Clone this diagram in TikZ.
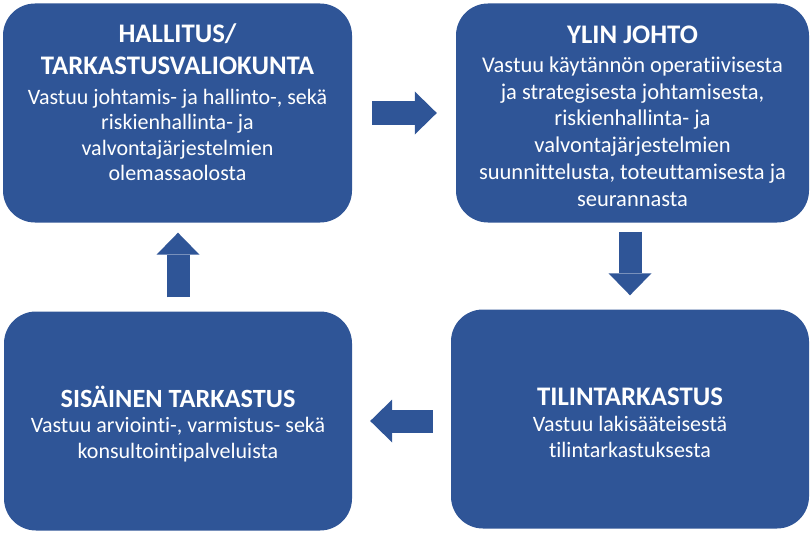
\documentclass[tikz,border=0pt]{standalone}
\usepackage{fontspec}
\setmainfont{Carlito}[Ligatures=NoCommon]
\usepackage{tikz}
\usetikzlibrary{arrows.meta,positioning,calc}

\definecolor{sininen}{HTML}{2F5597}
\newcommand{\otsikko}[1]{{\fontsize{26.8}{30}\selectfont\bfseries #1}}

\tikzset{
	laatikko/.style={fill=sininen, rounded corners=32pt,
		minimum width=349pt, minimum height=219pt, inner sep=0pt},
	teksti/.style={text=white, align=center, inner sep=0pt,
		font=\fontsize{22}{26}\selectfont},
	nuoli/.style={draw=sininen, line width=23pt,
		-{Triangle[length=22pt,width=43pt,line width=0pt]}}
}

\begin{document}
\begin{tikzpicture}[x=1pt, y=-1pt]
			\useasboundingbox (0, 0) rectangle (812, 535);
			
			\node[laatikko] (hallitus) at (177.5, 113) {};
			\node[laatikko, minimum width=353pt] (ylin) at (632.5, 113) {};
			\node[laatikko, minimum width=358pt] (tilin) at (630, 419) {};
			\node[laatikko, minimum width=348pt] (sisainen) at (178, 421) {};
			
			%% tekstit %%
			\node[teksti, font=\fontsize{22}{25.5}\selectfont] (hallitus-teksti) at ([yshift=11pt]hallitus.center) {\otsikko{HALLITUS/}\\[6.5pt]
				\otsikko{TARKASTUSVALIOKUNTA}\\[4.5pt]
				Vastuu johtamis- ja hallinto-, sekä\\
				riskienhallinta- ja\\
				valvontajärjestelmien\\
				olemassaolosta};
			\node[teksti, font=\fontsize{22.5}{26.8}\selectfont] (ylin-teksti) at ([yshift=-3pt]ylin.center) {\otsikko{YLIN JOHTO}\\[2.2pt]
				Vastuu käytännön operatiivisesta\\
				ja strategisesta johtamisesta,\\
				riskienhallinta- ja\\
				valvontajärjestelmien\\
				suunnittelusta, toteuttamisesta ja\\
				seurannasta};
			\node[teksti] (tilin-teksti) at ([yshift=-3.5pt]tilin.center) {\otsikko{TILINTARKASTUS}\\[0pt]
				Vastuu lakisääteisestä\\
				tilintarkastuksesta};
			\node[teksti] (sisainen-teksti) at ([yshift=-3pt]sisainen.center) {{\fontsize{26.3}{30}\selectfont\bfseries SISÄINEN TARKASTUS}\\[-1pt]
				Vastuu arviointi-, varmistus- sekä\\
				konsultointipalveluista};
			
			%% nuolet %%
			\draw[nuoli, shorten <=20pt, shorten >=19pt] (hallitus) -- (ylin);
			\draw[nuoli, shorten <=9pt, shorten >=14pt] (tilin.north |- ylin.south) -- (tilin.north);
			\draw[nuoli, shorten <=18pt, shorten >=18pt] (tilin.west |- sisainen.east) -- (sisainen.east);
			\draw[nuoli, shorten <=14pt, shorten >=10pt] (sisainen.north) -- (sisainen.north |- hallitus.south);
\end{tikzpicture}
\end{document}
